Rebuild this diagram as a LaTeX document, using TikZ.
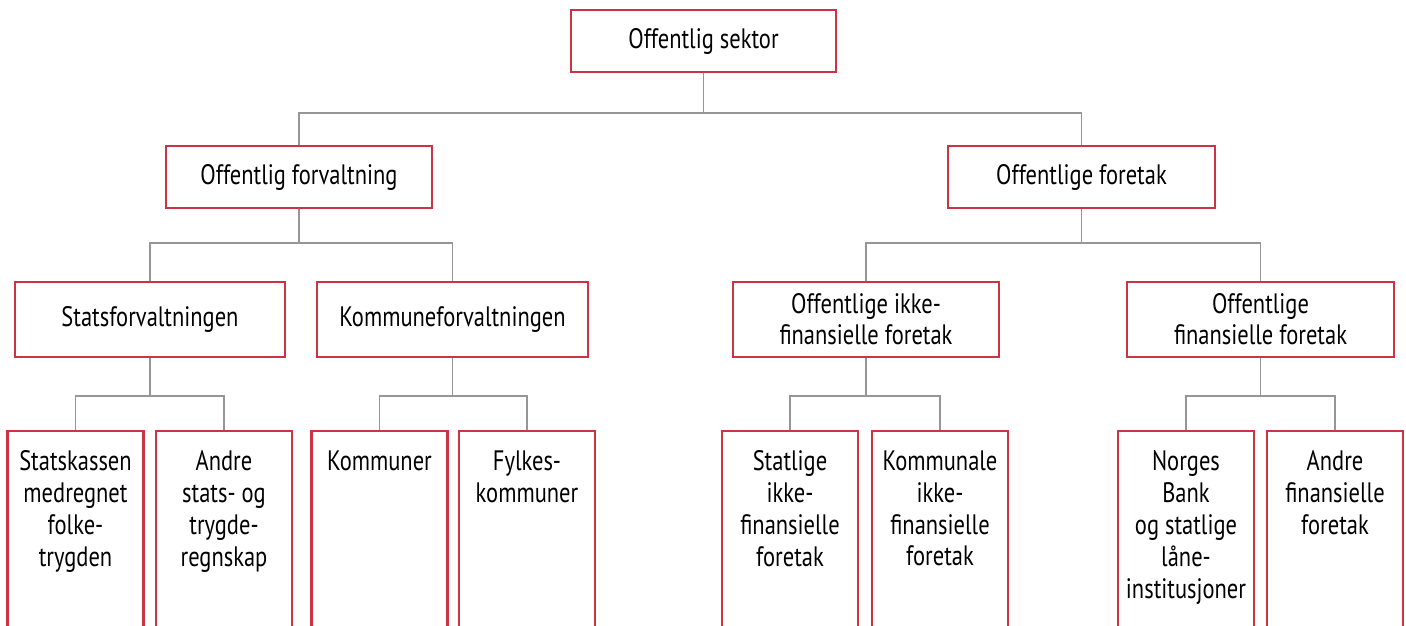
\documentclass[tikz,border=0pt]{standalone}
\usepackage{fontspec}
\setmainfont{PT Sans}[FakeStretch=0.8]
\usepackage{tikz}
\usepackage{xcolor}
\definecolor{boxred}{RGB}{204,51,68}
\definecolor{linegray}{RGB}{150,150,150}
\tikzset{
  org/.style={draw=boxred,line width=1.4pt,fill=white,align=center,inner sep=2pt},
  leaf/.style={draw=boxred,line width=1.4pt,minimum width=2.72cm,minimum height=4.8cm,anchor=north},
  leaftxt/.style={anchor=north,align=center,inner sep=0pt,yshift=-0.4cm},
  conn/.style={draw=linegray,line width=1pt}
}

\begin{document}
\begin{tikzpicture}[font=\fontsize{16}{18.2}\selectfont]
\useasboundingbox (0,0) rectangle (28.12,-12.5);
\clip (0,0) rectangle (28.12,-12.5);
\fill[white] (0,0) rectangle (28.12,-12.5);
% top level
\node[org,minimum width=5.3cm,minimum height=1.24cm] (sektor) at (14.07,-0.82) {Offentlig sektor};
\node[org,minimum width=5.32cm,minimum height=1.24cm] (forv) at (5.98,-3.54) {Offentlig forvaltning};
\node[org,minimum width=5.34cm,minimum height=1.24cm] (foretak) at (21.63,-3.54) {Offentlige foretak};
% third level
\node[org,minimum width=5.4cm,minimum height=1.5cm] (stat) at (3.0,-6.39) {Statsforvaltningen};
\node[org,minimum width=5.42cm,minimum height=1.5cm] (komm) at (9.05,-6.39) {Kommuneforvaltningen};
\node[org,minimum width=5.32cm,minimum height=1.5cm,font=\fontsize{16}{17.6}\selectfont] (ikkefin) at (17.32,-6.39) {Offentlige ikke-\\finansielle foretak};
\node[org,minimum width=5.34cm,minimum height=1.5cm,font=\fontsize{16}{17.6}\selectfont] (fin) at (25.21,-6.39) {Offentlige\\finansielle foretak};
% bottom level
\node[leaf] (statskassen) at (1.51,-8.6) {};
\node[leaf] (andrestats) at (4.48,-8.6) {};
\node[leaf] (kommuner) at (7.59,-8.6) {};
\node[leaf] (fylkes) at (10.54,-8.6) {};
\node[leaf] (statlige) at (15.8,-8.6) {};
\node[leaf] (kommunale) at (18.8,-8.6) {};
\node[leaf] (norges) at (23.72,-8.6) {};
\node[leaf] (andrefin) at (26.7,-8.6) {};
\node[leaftxt] (t1) at (statskassen.north) {Statskassen\\medregnet\\folke-\\trygden};
\node[leaftxt] (t2) at (andrestats.north) {Andre\\stats- og\\trygde-\\regnskap};
\node[leaftxt] (t3) at (kommuner.north) {Kommuner};
\node[leaftxt] (t4) at (fylkes.north) {Fylkes-\\kommuner};
\node[leaftxt] (t5) at (statlige.north) {Statlige\\ikke-\\finansielle\\foretak};
\node[leaftxt] (t6) at (kommunale.north) {Kommunale\\ikke-\\finansielle\\foretak};
\node[leaftxt] (t7) at (norges.north) {Norges\\Bank\\og statlige\\låne-\\institusjoner};
\node[leaftxt] (t8) at (andrefin.north) {Andre\\finansielle\\foretak};
% connectors
\draw[conn] (sektor.south) -- ++(0,-0.8) -| (forv.north);
\draw[conn] (sektor.south) -- ++(0,-0.8) -| (foretak.north);
\draw[conn] (forv.south) -- ++(0,-0.68) -| (stat.north);
\draw[conn] (forv.south) -- ++(0,-0.68) -| (komm.north);
\draw[conn] (foretak.south) -- ++(0,-0.68) -| (ikkefin.north);
\draw[conn] (foretak.south) -- ++(0,-0.68) -| (fin.north);
\draw[conn] (stat.south) -- ++(0,-0.76) -| (statskassen.north);
\draw[conn] (stat.south) -- ++(0,-0.76) -| (andrestats.north);
\draw[conn] (komm.south) -- ++(0,-0.76) -| (kommuner.north);
\draw[conn] (komm.south) -- ++(0,-0.76) -| (fylkes.north);
\draw[conn] (ikkefin.south) -- ++(0,-0.76) -| (statlige.north);
\draw[conn] (ikkefin.south) -- ++(0,-0.76) -| (kommunale.north);
\draw[conn] (fin.south) -- ++(0,-0.76) -| (norges.north);
\draw[conn] (fin.south) -- ++(0,-0.76) -| (andrefin.north);
\end{tikzpicture}
\end{document}
